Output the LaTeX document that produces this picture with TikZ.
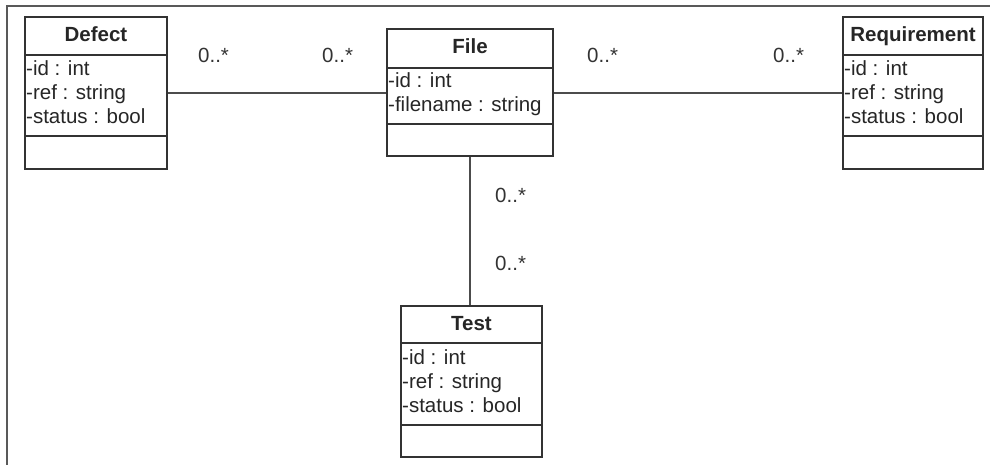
\documentclass[tikz,border=0pt]{standalone}
\usepackage{fontspec}
\setmainfont{Liberation Sans}
\begin{document}
\begin{tikzpicture}[x=1pt,y=-1pt,
  classbox/.style={draw=black!80,line width=1.8pt,fill=white,inner sep=0pt,rectangle},
  divider/.style={draw=black!80,line width=1.6pt},
  assoc/.style={draw=black!70,line width=1.8pt},
  frameline/.style={draw=black!65,line width=1.8pt},
  title/.style={inner sep=0pt,anchor=base,font=\fontsize{20.5}{24}\selectfont\bfseries,text=black!85},
  attr/.style={inner sep=0pt,anchor=base west,font=\fontsize{20.5}{24}\selectfont,text=black!85},
  mult/.style={inner sep=0pt,anchor=base west,font=\fontsize{20.5}{24}\selectfont,text=black!80}]
\useasboundingbox (0,0) rectangle (990,465);
% outer frame (top and left edges only)
\draw[frameline] (7,465) -- (7,6) -- (990,6);

% class boxes
\node[classbox,minimum width=142pt,minimum height=152pt] (defect) at (96,93) {};
\node[classbox,minimum width=166pt,minimum height=127pt] (file) at (470,92.5) {};
\node[classbox,minimum width=140pt,minimum height=152pt] (req) at (913,93) {};
\node[classbox,minimum width=141pt,minimum height=151pt] (test) at (471.5,381.5) {};

% compartment dividers
\draw[divider] (defect.west |- 0,55) -- (defect.east |- 0,55);
\draw[divider] (defect.west |- 0,136) -- (defect.east |- 0,136);
\draw[divider] (file.west |- 0,68) -- (file.east |- 0,68);
\draw[divider] (file.west |- 0,124) -- (file.east |- 0,124);
\draw[divider] (req.west |- 0,55) -- (req.east |- 0,55);
\draw[divider] (req.west |- 0,136) -- (req.east |- 0,136);
\draw[divider] (test.west |- 0,343) -- (test.east |- 0,343);
\draw[divider] (test.west |- 0,425) -- (test.east |- 0,425);

% class names
\node[title] (defectname) at (96,42) {Defect};
\node[title] (filename) at (470,54) {File};
\node[title] (reqname) at (913,42) {Requirement};
\node[title] (testname) at (471.5,330) {Test};

% attributes
\node[attr] (d1) at (26,76) {-id : int};
\node[attr] (d2) at (26,100) {-ref : string};
\node[attr] (d3) at (26,124) {-status : bool};
\node[attr] (f1) at (388,88) {-id : int};
\node[attr] (f2) at (388,112) {-filename : string};
\node[attr] (r1) at (844,76) {-id : int};
\node[attr] (r2) at (844,100) {-ref : string};
\node[attr] (r3) at (844,124) {-status : bool};
\node[attr] (t1) at (402,364) {-id : int};
\node[attr] (t2) at (402,388) {-ref : string};
\node[attr] (t3) at (402,412) {-status : bool};

% associations
\draw[assoc] (defect.east) -- (defect.east -| file.west);
\draw[assoc] (req.west -| file.east) -- (req.west);
\draw[assoc] (file.south) -- (file.south |- test.north);

% multiplicities
\node[mult] (m1) at (198,63) {0..*};
\node[mult] (m2) at (322,63) {0..*};
\node[mult] (m3) at (587,63) {0..*};
\node[mult] (m4) at (773,63) {0..*};
\node[mult] (m5) at (495,203) {0..*};
\node[mult] (m6) at (495,270) {0..*};
\end{tikzpicture}
\end{document}
